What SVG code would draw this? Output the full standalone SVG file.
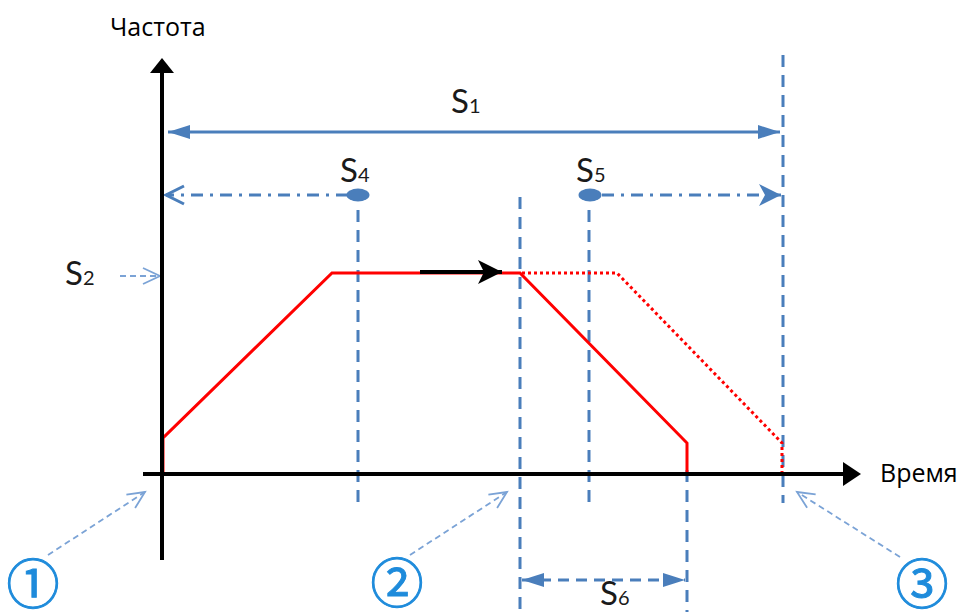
<svg xmlns="http://www.w3.org/2000/svg" width="967" height="612" viewBox="0 0 967 612">
<style>
.axis{stroke:#000;stroke-width:4;fill:none}
.blue{stroke:#4A7EBB;stroke-width:3;fill:none}
.vdash{stroke-dasharray:12 8}
.dashdot{stroke-dasharray:12 7 3 7}
.red{stroke:#FF0000;stroke-width:3;fill:none}
.reddot{stroke-dasharray:3 3}
.callout{stroke:#7BA3D6;stroke-width:1.8;fill:none;stroke-dasharray:6 4}
.lbl{font-family:Lato,"Liberation Sans",sans-serif;fill:#1a1a1a;font-size:33px}
.sub{font-size:20px}
.cyr{font-family:"Open Sans","Liberation Sans",sans-serif;font-size:25px;fill:#000}
.num{font-family:"Noto Sans CJK JP","DejaVu Sans",sans-serif;fill:#1E8BDB;stroke:#1E8BDB;stroke-width:1;font-size:53px;text-anchor:middle}
</style>
<defs>
<marker id="tri" markerUnits="userSpaceOnUse" markerWidth="24" markerHeight="16" refX="22" refY="7" orient="auto-start-reverse" overflow="visible">
<path d="M0,0 L22,7 L0,14 z" fill="#4A7EBB"/>
</marker>
<marker id="stealth" markerUnits="userSpaceOnUse" markerWidth="26" markerHeight="24" refX="22" refY="11" orient="auto-start-reverse" overflow="visible">
<path d="M0,0 L22,11 L0,22 L6,11 z" fill="#4A7EBB"/>
</marker>
<marker id="chev" markerUnits="userSpaceOnUse" markerWidth="24" markerHeight="24" refX="20" refY="10" orient="auto-start-reverse" overflow="visible">
<path d="M2,1 L20,10 L2,19" fill="none" stroke="#4A7EBB" stroke-width="3"/>
</marker>
<marker id="thinchev" markerUnits="userSpaceOnUse" markerWidth="24" markerHeight="24" refX="18" refY="9" orient="auto" overflow="visible">
<path d="M1,1 L18,9 L1,17" fill="none" stroke="#7BA3D6" stroke-width="1.8"/>
</marker>
<marker id="blk" markerUnits="userSpaceOnUse" markerWidth="28" markerHeight="28" refX="24" refY="12" orient="auto" overflow="visible">
<path d="M0,0 L24,12 L0,24 L6,12 z" fill="#000"/>
</marker>
</defs>

<g id="connectors">
<line class="blue vdash" x1="783" y1="55" x2="783" y2="503"/>
<line class="blue vdash" x1="520" y1="197" x2="520" y2="612"/>
<line class="blue vdash" x1="358" y1="210" x2="358" y2="503"/>
<line class="blue vdash" x1="589" y1="210" x2="589" y2="503"/>
<line class="blue vdash" x1="687" y1="470" x2="687" y2="612"/>
<line class="blue" x1="168" y1="132" x2="780" y2="132" marker-start="url(#tri)" marker-end="url(#tri)"/>
<line class="blue dashdot" x1="348" y1="195" x2="166" y2="195" marker-end="url(#chev)"/>
<line class="blue dashdot" x1="602" y1="195" x2="781" y2="195" marker-end="url(#stealth)"/>
<line class="blue" style="stroke-dasharray:11 7" x1="522" y1="580" x2="685" y2="580" marker-start="url(#tri)" marker-end="url(#tri)"/>
<line class="callout" x1="120" y1="276" x2="160" y2="276" marker-end="url(#thinchev)"/>
<line class="callout" x1="48" y1="555" x2="145" y2="492" marker-end="url(#thinchev)"/>
<line class="callout" x1="410" y1="555" x2="507" y2="492" marker-end="url(#thinchev)"/>
<line class="callout" x1="900" y1="557" x2="797" y2="492" marker-end="url(#thinchev)"/>
<polyline class="red" points="163,474 163,438 332,273 520,273 687,443 687,474"/>
<polyline class="red reddot" points="522,273 617,273 782,443 782,474"/>
<line x1="420" y1="272" x2="502" y2="272" stroke="#000" stroke-width="4" marker-end="url(#blk)"/>
</g>

<g id="axes">
<line class="axis" x1="162" y1="68" x2="162" y2="560"/>
<path d="M150,73 L162,58 L174,73 z" fill="#000"/>
<line class="axis" x1="143" y1="474" x2="848" y2="474"/>
<path d="M843,462 L861,474 L843,486 z" fill="#000"/>
</g>

<g id="dots">
<ellipse cx="358" cy="195" rx="11.5" ry="6.5" fill="#4A7EBB"/>
<ellipse cx="590" cy="195" rx="11.5" ry="6.5" fill="#4A7EBB"/>
</g>

<g id="labels">
<text class="cyr" x="110" y="36">Частота</text>
<text class="cyr" x="880" y="482">Время</text>
<text class="lbl" x="451" y="113">S<tspan class="sub">1</tspan></text>
<text class="lbl" x="340" y="182">S<tspan class="sub">4</tspan></text>
<text class="lbl" x="576" y="182">S<tspan class="sub">5</tspan></text>
<text class="lbl" x="65" y="285">S<tspan class="sub">2</tspan></text>
<text class="lbl" x="600" y="605">S<tspan class="sub">6</tspan></text>
</g>

<g id="n1"><text class="num" x="33" y="604">①</text></g>
<g id="n2"><text class="num" x="397" y="603">②</text></g>
<g id="n3"><text class="num" x="922" y="604">③</text></g>
</svg>
